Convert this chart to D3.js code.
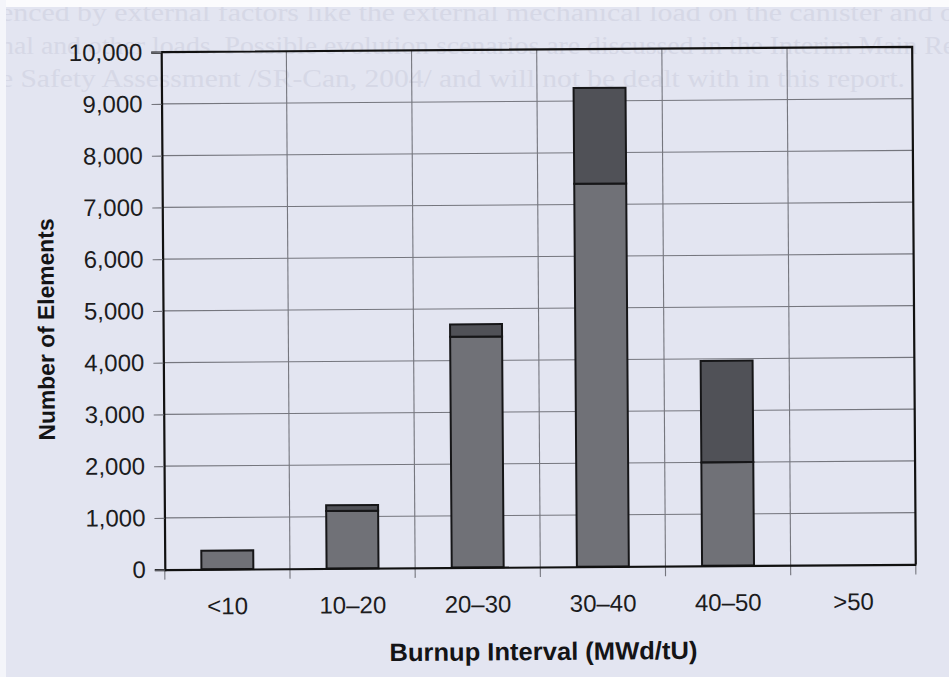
<!DOCTYPE html>
<html>
<head>
<meta charset="utf-8">
<script src="https://cdn.jsdelivr.net/npm/d3@7/dist/d3.min.js"></script>
<style>
  html, body { margin: 0; padding: 0; background: #e3e5f1; }
  svg { display: block; }
</style>
</head>
<body>
<svg id="chart" width="949" height="677"></svg>
<script>
// Burnup interval categories and the two stacked series (number of elements)
const categories = ["<10", "10–20", "20–30", "30–40", "40–50", ">50"];
const lowerValues = [360, 1110, 4460, 7400, 2000, 0];
const upperValues = [0, 110, 240, 1850, 1960, 0];
const yTickValues = [0, 1000, 2000, 3000, 4000, 5000, 6000, 7000, 8000, 9000, 10000];

// Running text of the page that shows through behind the figure
const pageLines = [
  "enced by external factors like the external mechanical load on the canister and o",
  "nal and other loads. Possible evolution scenarios are discussed in the Interim Main Re",
  "e Safety Assessment /SR-Can, 2004/ and will not be dealt with in this report."
];

const W = 949, H = 677;
const svg = d3.select("#chart");

// paper
svg.append("rect").attr("width", W).attr("height", H).attr("fill", "#e3e5f1");

const page = svg.append("g");
page.selectAll("text.page")
  .data(pageLines)
  .join("text")
  .attr("class", "page")
  .attr("x", 0)
  .attr("y", (d, i) => 21 + i * 33)
  .attr("font-family", "'Liberation Serif', 'DejaVu Serif', serif")
  .attr("font-size", 25)
  .attr("fill", "#d6d8e6")
  .attr("textLength", (d, i) => [955, 955, 905][i])
  .attr("lengthAdjust", "spacingAndGlyphs")
  .text(d => d);

// unscanned margins
svg.append("rect").attr("x", 0).attr("y", 0).attr("width", W).attr("height", 7).attr("fill", "#fbfbfd");
svg.append("rect").attr("x", 0).attr("y", 0).attr("width", 6).attr("height", H).attr("fill", "#f4f5fa");

// the figure is printed slightly askew
const fig = svg.append("g").attr("transform", "rotate(-0.4 540 310)");

const plotLeft = 163, plotRight = 914, plotTop = 49.5, plotBottom = 567;

const x = d3.scaleBand()
  .domain(categories)
  .range([plotLeft, plotRight])
  .paddingInner(0.585)
  .paddingOuter(0.2925);

const y = d3.scaleLinear().domain([0, 10000]).range([plotBottom, plotTop]);

const step = (plotRight - plotLeft) / categories.length;
const boundaries = d3.range(categories.length + 1).map(i => plotLeft + i * step);

const gridColor = "#75767e";

// horizontal grid
fig.append("g")
  .selectAll("line")
  .data(yTickValues.slice(1, -1))
  .join("line")
  .attr("x1", plotLeft).attr("x2", plotRight)
  .attr("y1", d => y(d)).attr("y2", d => y(d))
  .attr("stroke", gridColor).attr("stroke-width", 1.1);

// vertical grid between categories, extending as tick marks below the axis
fig.append("g")
  .selectAll("line")
  .data(boundaries.slice(1, -1))
  .join("line")
  .attr("x1", d => d).attr("x2", d => d)
  .attr("y1", plotTop).attr("y2", plotBottom + 10)
  .attr("stroke", gridColor).attr("stroke-width", 1.1);
fig.append("g")
  .selectAll("line")
  .data([plotLeft, plotRight])
  .join("line")
  .attr("x1", d => d).attr("x2", d => d)
  .attr("y1", plotBottom).attr("y2", plotBottom + 10)
  .attr("stroke", gridColor).attr("stroke-width", 1.1);

// stacked bars
const rows = categories.map((c, i) => ({ cat: c, lower: lowerValues[i], upper: upperValues[i] }));
const stack = d3.stack().keys(["lower", "upper"])(rows);
const fills = { lower: "#707177", upper: "#505157" };

fig.append("g")
  .selectAll("g")
  .data(stack)
  .join("g")
  .attr("fill", d => fills[d.key])
  .selectAll("rect")
  .data(d => d.filter(s => s[1] > s[0]))
  .join("rect")
  .attr("x", d => x(d.data.cat))
  .attr("width", x.bandwidth())
  .attr("y", d => y(d[1]))
  .attr("height", d => y(d[0]) - y(d[1]))
  .attr("stroke", "#161618")
  .attr("stroke-width", 2);

// plot frame (top and right)
fig.append("path")
  .attr("d", `M${plotLeft},${plotTop}H${plotRight}V${plotBottom}`)
  .attr("fill", "none").attr("stroke", "#111").attr("stroke-width", 2.2);

// y axis
const yAxis = d3.axisLeft(y)
  .tickValues(yTickValues)
  .tickFormat(d3.format(","))
  .tickSize(10)
  .tickPadding(9);
const gy = fig.append("g").attr("transform", `translate(${plotLeft},0)`).call(yAxis);
gy.select(".domain").attr("stroke", "#111").attr("stroke-width", 2.2);
gy.selectAll(".tick line").attr("stroke", gridColor).attr("stroke-width", 1.1);
gy.selectAll(".tick text")
  .attr("font-family", "'Liberation Sans', Arial, sans-serif")
  .attr("font-size", 24)
  .attr("fill", "#1c1c1e");

// x axis
const xAxis = d3.axisBottom(x).tickSize(0).tickPadding(28);
const gx = fig.append("g").attr("transform", `translate(0,${plotBottom})`).call(xAxis);
gx.select(".domain").attr("stroke", "#111").attr("stroke-width", 2.2);
gx.selectAll(".tick text")
  .attr("font-family", "'Liberation Sans', Arial, sans-serif")
  .attr("font-size", 24)
  .attr("fill", "#1c1c1e");

// axis titles
fig.append("text")
  .attr("x", 541).attr("y", 660)
  .attr("text-anchor", "middle")
  .attr("font-family", "'Liberation Sans', Arial, sans-serif")
  .attr("font-weight", "bold")
  .attr("font-size", 25)
  .attr("fill", "#141416")
  .attr("textLength", 308)
  .attr("lengthAdjust", "spacingAndGlyphs")
  .text("Burnup Interval (MWd/tU)");

fig.append("text")
  .attr("transform", "translate(54,326) rotate(-90)")
  .attr("text-anchor", "middle")
  .attr("font-family", "'Liberation Sans', Arial, sans-serif")
  .attr("font-weight", "bold")
  .attr("font-size", 23)
  .attr("fill", "#141416")
  .attr("textLength", 222)
  .attr("lengthAdjust", "spacingAndGlyphs")
  .text("Number of Elements");
</script>
</body>
</html>
